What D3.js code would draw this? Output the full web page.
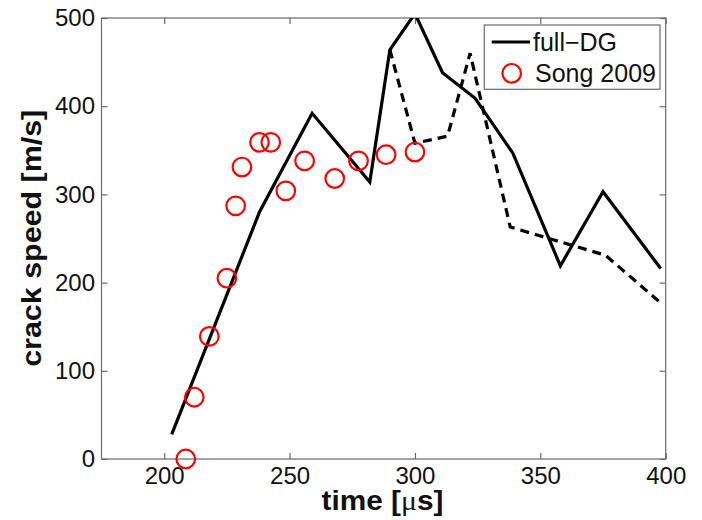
<!DOCTYPE html>
<html><head><meta charset="utf-8">
<script src="https://cdn.jsdelivr.net/npm/d3@7"></script>
<style>body{margin:0;background:#fff;} svg{display:block;font-family:"Liberation Sans",Arial,sans-serif;}</style>
</head><body>
<svg id="c" width="702" height="520"></svg>
<script>
const fullDGTime  = [203, 238, 259, 282, 290, 300, 311, 324, 339, 358, 375, 398];
const fullDGSpeed = [28, 280, 392, 314, 464, 505, 438, 409, 347, 219, 303, 216];
const dashTime    = [290, 300, 313, 322, 338, 376, 398];
const dashSpeed   = [464, 358, 366, 460, 263, 231, 177];
const songTime    = [208.6, 212, 218, 225, 228.5, 231, 238, 242.5, 248.5, 256, 268, 277.5, 288.5, 300];
const songSpeed   = [0, 70, 139, 205, 287, 331, 359, 359, 304, 338, 318, 338, 345, 348];
const xTicks = [200, 250, 300, 350, 400];
const yTicks = [0, 100, 200, 300, 400, 500];

const svg = d3.select("#c");
const L = 101.5, R = 665.7, T = 18, B = 459;
const x = d3.scaleLinear().domain([175, 400]).range([L, R]);
const y = d3.scaleLinear().domain([0, 500]).range([B, T]);
const axisCol = "#6a6a6a";

svg.append("defs").append("clipPath").attr("id","clip")
  .append("rect").attr("x",L).attr("y",T).attr("width",R-L).attr("height",B-T);

// box
svg.append("rect").attr("x",L).attr("y",T).attr("width",R-L).attr("height",B-T)
  .attr("fill","none").attr("stroke",axisCol).attr("stroke-width",1.2);

// axes with inward ticks
const gx = svg.append("g").attr("transform",`translate(0,${B})`)
  .call(d3.axisBottom(x).tickValues(xTicks).tickSizeInner(-6).tickSizeOuter(0).tickPadding(8));
const gxt = svg.append("g").attr("transform",`translate(0,${T})`)
  .call(d3.axisTop(x).tickValues(xTicks).tickSizeInner(-6).tickSizeOuter(0).tickFormat(""));
const gy = svg.append("g").attr("transform",`translate(${L},0)`)
  .call(d3.axisLeft(y).tickValues(yTicks).tickSizeInner(-6).tickSizeOuter(0).tickPadding(6.5));
const gyr = svg.append("g").attr("transform",`translate(${R},0)`)
  .call(d3.axisRight(y).tickValues(yTicks).tickSizeInner(-6).tickSizeOuter(0).tickFormat(""));
[gx,gxt,gy,gyr].forEach(g=>{
  g.select(".domain").remove();
  g.selectAll(".tick line").attr("stroke",axisCol).attr("stroke-width",1.2);
  g.selectAll("text").attr("fill","#111").attr("font-size",24)
   .attr("font-family","'Liberation Sans',Arial,sans-serif");
});

const line = d3.line().x(d=>x(d[0])).y(d=>y(d[1]));
const plot = svg.append("g").attr("clip-path","url(#clip)");
plot.append("path").datum(dashTime.map((t,i)=>[t,dashSpeed[i]]))
  .attr("d",line).attr("fill","none").attr("stroke","#000").attr("stroke-width",3.2)
  .attr("stroke-dasharray","9,6");
plot.append("path").datum(fullDGTime.map((t,i)=>[t,fullDGSpeed[i]]))
  .attr("d",line).attr("fill","none").attr("stroke","#000").attr("stroke-width",3.2)
  .attr("stroke-linejoin","miter");

svg.append("g").selectAll("circle").data(songTime.map((t,i)=>[t,songSpeed[i]]))
  .join("circle").attr("cx",d=>x(d[0])).attr("cy",d=>y(d[1])).attr("r",9.3)
  .attr("fill","none").attr("stroke","#ff0000").attr("stroke-width",2.2);

// legend
const lg = svg.append("g");
lg.append("rect").attr("x",484.3).attr("y",25).attr("width",175.7).attr("height",64.3)
  .attr("fill","#fff").attr("stroke",axisCol).attr("stroke-width",1.2);
lg.append("line").attr("x1",491.7).attr("x2",530).attr("y1",42).attr("y2",42)
  .attr("stroke","#000").attr("stroke-width",3.2);
lg.append("text").attr("x",533).attr("y",50.5).attr("font-size",25).attr("fill","#111").text("full\u2212DG");
lg.append("circle").attr("cx",511.7).attr("cy",73.3).attr("r",9.3)
  .attr("fill","none").attr("stroke","#ff0000").attr("stroke-width",2.2);
lg.append("text").attr("x",535).attr("y",82).attr("font-size",25).attr("fill","#111").text("Song 2009");

// axis labels
const xl = svg.append("text").attr("x",382.5).attr("y",510).attr("text-anchor","middle")
  .attr("font-size",27).attr("font-weight","bold").attr("fill","#111")
  .attr("textLength",122).attr("lengthAdjust","spacingAndGlyphs");
xl.append("tspan").text("time [");
xl.append("tspan").attr("font-family","'Liberation Serif','Times New Roman',serif").attr("font-weight","normal").text("\u03bc");
xl.append("tspan").text("s]");
svg.append("text").attr("transform","translate(41,238.3) rotate(-90)").attr("text-anchor","middle")
  .attr("font-size",27).attr("font-weight","bold").attr("fill","#111")
  .attr("textLength",257).attr("lengthAdjust","spacingAndGlyphs").text("crack speed [m/s]");
</script>
</body></html>
